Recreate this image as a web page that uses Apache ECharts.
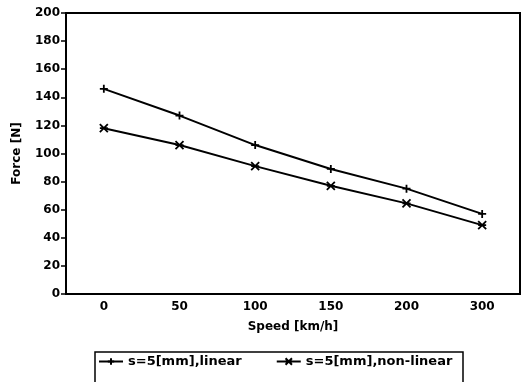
<!DOCTYPE html>
<html><head><meta charset="utf-8">
<script src="https://cdn.jsdelivr.net/npm/echarts@6/dist/echarts.min.js"></script>
<style>html,body{margin:0;padding:0;background:#fff}#c{width:524px;height:382px}</style>
</head><body><div id="c"></div>
<script>
const categories = ['0', '50', '100', '150', '200', '300'];
const linearForce = [146, 127, 106, 89, 75, 57];
const nonLinearForce = [118, 106, 91, 77, 64.5, 49];
const seriesNames = ['s=5[mm],linear', 's=5[mm],non-linear'];
const yTicks = { min: 0, max: 200, interval: 20 };

const FONT = 'DejaVu Sans';
const chart = echarts.init(document.getElementById('c'), null, { renderer: 'canvas' });
const plusSym = 'path://M0,-4L0,4M-4,0L4,0';
const starSym = 'path://M-4,-3L4,3M-4,3L4,-3M-4,0L4,0';
const mk = (name, data, sym) => ({
  name, type: 'line', data, symbol: sym, symbolSize: [8, 8],
  lineStyle: { color: '#000', width: 2 },
  itemStyle: { color: '#000', borderColor: '#000', borderWidth: 1.8 },
  animation: false
});
chart.setOption({
  animation: false,
  grid: { left: 66, right: 4, top: 13, bottom: 88, show: true, borderColor: '#000', borderWidth: 2, backgroundColor: 'transparent' },
  xAxis: {
    type: 'category', data: categories, boundaryGap: true,
    name: 'Speed [km/h]', nameLocation: 'middle', nameGap: 27,
    nameTextStyle: { fontFamily: FONT, fontWeight: 'bold', fontSize: 12, color: '#000' },
    axisLine: { lineStyle: { color: '#000', width: 2 } },
    axisTick: { alignWithLabel: true, length: 4, lineStyle: { color: '#000', width: 1.5 } },
    axisLabel: { fontFamily: FONT, fontWeight: 'bold', fontSize: 12, color: '#000', margin: 7 },
    splitLine: { show: false }
  },
  yAxis: {
    type: 'value', min: yTicks.min, max: yTicks.max, interval: yTicks.interval,
    name: 'Force [N]', nameLocation: 'middle', nameGap: 43, nameRotate: 90,
    nameTextStyle: { fontFamily: FONT, fontWeight: 'bold', fontSize: 12, color: '#000' },
    axisLine: { show: true, lineStyle: { color: '#000', width: 2 } },
    axisTick: { show: true, length: 5, lineStyle: { color: '#000', width: 1.5 } },
    axisLabel: { fontFamily: FONT, fontWeight: 'bold', fontSize: 12, color: '#000', margin: 6 },
    splitLine: { show: false }
  },
  legend: {
    left: 98, top: 355, padding: 0, itemWidth: 24, itemHeight: 8, itemGap: 34,
    textStyle: { fontFamily: FONT, fontWeight: 'bold', fontSize: 13, color: '#000' },
    data: seriesNames
  },
  graphic: [{ type: 'rect', shape: { x: 95, y: 352, width: 368, height: 45 }, style: { fill: 'none', stroke: '#000', lineWidth: 1.5 } }],
  series: [mk(seriesNames[0], linearForce, plusSym), mk(seriesNames[1], nonLinearForce, starSym)]
});
</script></body></html>
